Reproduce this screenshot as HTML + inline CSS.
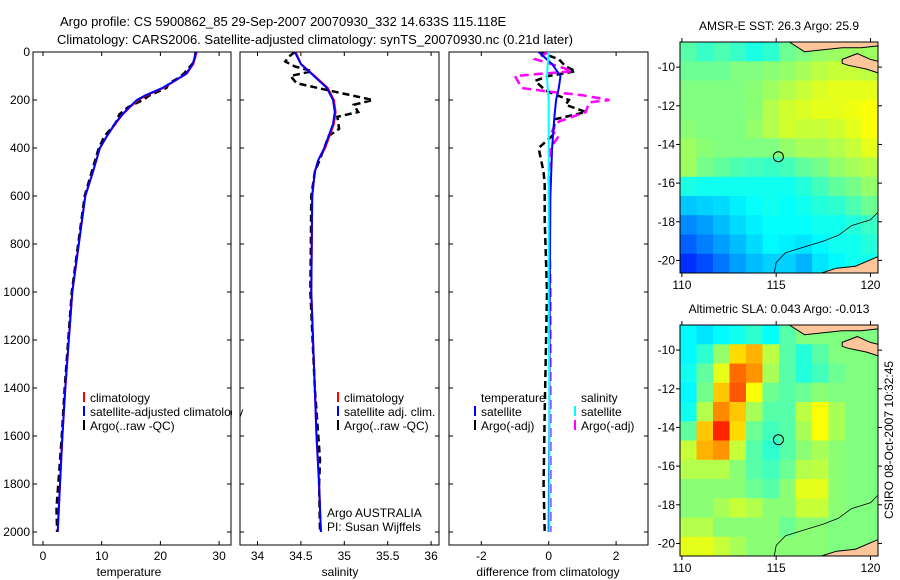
<!DOCTYPE html>
<html><head><meta charset="utf-8"><style>
body{margin:0;background:#fff;}
svg{display:block;font-family:"Liberation Sans",sans-serif;font-size:12px;}
</style></head><body>
<svg id="c" width="900" height="580" viewBox="0 0 900 580" xmlns="http://www.w3.org/2000/svg">
<text x="60" y="26" style="font-size:13px">Argo profile: CS 5900862_85 29-Sep-2007 20070930_332 14.633S 115.118E</text>
<text x="57" y="44" style="font-size:13px">Climatology: CARS2006. Satellite-adjusted climatology: synTS_20070930.nc (0.21d later)</text>
<text transform="translate(893,440) rotate(-90)" text-anchor="middle">CSIRO 08-Oct-2007 10:32:45</text>
</svg>
<script>
// ---------- profile data ----------
const tDepth=[0,50,90,120,150,180,200,230,260,300,350,400,500,600,800,1000,1400,1600,1800,2000];
const tClim=[26.2,25.6,24.5,22.5,20.5,17.7,16.2,14.8,13.6,12.3,10.9,9.7,8.5,7.2,6.1,5.0,3.8,3.3,2.9,2.5];
const tSat=[26.1,25.5,24.4,22.4,20.3,17.5,16.0,14.7,13.5,12.2,10.9,9.7,8.5,7.2,6.1,5.0,3.8,3.3,2.9,2.5];
const tArgoDepth=[0,40,90,110,130,150,180,200,230,260,300,350,400,500,600,800,1000,1400,1600,1800,1900,2000];
const tArgo=[26.0,25.8,24.0,23.0,21.5,21.0,18.2,17.0,14.5,13.0,12.3,10.5,9.5,8.3,7.1,6.0,4.9,3.7,3.2,2.6,2.3,2.4];
const sDepth=[0,50,100,150,200,250,300,400,450,500,600,1000,1400,1600,1800,2000];
const sClim=[34.44,34.5,34.66,34.81,34.88,34.9,34.88,34.78,34.7,34.66,34.63,34.62,34.66,34.68,34.71,34.73];
const sSat=[34.43,34.5,34.65,34.8,34.87,34.89,34.87,34.77,34.7,34.66,34.63,34.62,34.66,34.68,34.71,34.73];
const sArgoDepth=[0,20,40,60,80,100,130,160,200,220,250,270,320,350,400,500,600,1000,1400,1600,1700,1800,2000];
const sArgo=[34.43,34.36,34.32,34.43,34.63,34.38,34.45,34.82,35.33,35.11,35.16,34.92,34.94,34.82,34.77,34.66,34.62,34.61,34.66,34.7,34.72,34.71,34.72];
const dDepth=[0,50,100,150,200,270,400,600,1000,1500,2000];
const dTSat=[-0.3,0.1,0.35,0.3,0.22,0.17,0.1,0.05,0.03,0.02,0.0];
const dSSat=[0.0,-0.03,-0.05,-0.03,0.0,0.0,0.0,0.0,0.0,0.02,0.02];
const dArgoDepth=[0,30,60,80,100,120,160,200,220,250,280,350,400,500,550,700,1000,1500,1800,2000];
const dTArgo=[-0.3,0.3,0.5,0.8,0.0,-0.4,-0.1,0.6,0.5,1.1,0.2,0.1,-0.3,-0.15,-0.12,-0.12,-0.05,-0.12,-0.15,-0.12];
const dSArgoDepth=[0,30,60,80,100,150,165,180,200,210,250,290,330,350,400,500,1000,2000];
const dSArgo=[0,-0.4,0.3,0.7,-1.0,-0.8,0.0,1.0,1.8,1.2,1.1,0.3,0.1,0.3,0.05,0,0.05,0.05];
const depthTicks=[0,200,400,600,800,1000,1200,1400,1600,1800,2000];
const tTicks=[0,10,20,30], sTicks=[34,34.5,35,35.5,36], dTicks=[-2,0,2];
// ---------- map data ----------
const lonTicks=[110,115,120], latTicks=[-10,-12,-14,-16,-18,-20];
const sstVals=[
[.46,.43,.45,.43,.40,.42,.48,.50,.52,.53,.53,.53],
[.48,.48,.48,.50,.50,.51,.52,.54,.56,.57,.57,.56],
[.50,.50,.50,.50,.51,.53,.55,.57,.59,.60,.60,.60],
[.50,.50,.50,.50,.51,.55,.58,.59,.60,.60,.61,.62],
[.51,.50,.50,.50,.52,.55,.58,.57,.57,.58,.60,.62],
[.53,.51,.50,.50,.50,.50,.52,.54,.54,.55,.57,.60],
[.53,.49,.47,.45,.44,.43,.44,.47,.49,.52,.54,.55],
[.40,.39,.39,.39,.39,.39,.39,.41,.44,.47,.49,.52],
[.32,.33,.34,.36,.38,.39,.38,.39,.41,.42,.45,.48],
[.26,.28,.31,.34,.36,.38,.38,.38,.39,.39,.41,.43],
[.22,.25,.28,.31,.34,.37,.36,.35,.37,.39,.39,.41],
[.17,.20,.24,.28,.31,.33,.33,.30,.35,.37,.39,.39]];
const slaVals=[
[.37,.35,.37,.39,.42,.38,.46,.50,.50,.50,.50,.50],
[.37,.42,.52,.66,.70,.56,.46,.41,.46,.50,.50,.50],
[.39,.47,.60,.77,.73,.54,.46,.41,.44,.48,.50,.50],
[.37,.49,.68,.79,.62,.48,.46,.48,.51,.50,.50,.50],
[.39,.55,.74,.68,.54,.46,.46,.56,.62,.54,.50,.50],
[.47,.68,.84,.66,.48,.44,.46,.54,.62,.54,.50,.50],
[.57,.70,.73,.57,.46,.42,.46,.51,.54,.51,.50,.50],
[.55,.55,.55,.51,.46,.44,.48,.55,.56,.51,.50,.50],
[.51,.51,.51,.51,.48,.46,.51,.60,.60,.51,.50,.50],
[.51,.51,.54,.57,.55,.51,.51,.57,.57,.51,.50,.50],
[.55,.55,.51,.51,.51,.51,.48,.51,.51,.50,.50,.50],
[.60,.60,.57,.54,.51,.51,.51,.51,.51,.50,.50,.50]];
const landTopLon=[115.7,116.5,117.5,118.5,119.5,120.4,120.4,115.7];
const landTopLat=[-8.7,-9.2,-9.1,-9.0,-9.0,-8.9,-8.7,-8.7];
const islandLon=[118.5,119.3,120.0,120.4,120.4,119.8,118.8,118.5];
const islandLat=[-9.6,-9.3,-9.6,-9.7,-10.3,-10.1,-9.9,-9.8];
const landBotLon=[117.4,118.2,119.2,120.4,120.4,117.4];
const landBotLat=[-20.65,-20.4,-20.3,-19.8,-20.65,-20.65];
const isoLon=[114.9,115.0,115.5,116.5,117.5,118.3,119.0,120.0,120.4];
const isoLat=[-20.65,-20.1,-19.6,-19.3,-19.0,-18.7,-18.2,-17.9,-17.5];
const argoLon=115.118, argoLat=-14.633;

const svg=document.getElementById('c');
const NS='http://www.w3.org/2000/svg';
function mk(tag,attrs,parent){const e=document.createElementNS(NS,tag);for(const k in attrs)e.setAttribute(k,attrs[k]);(parent||svg).appendChild(e);return e;}
function txt(x,y,s,anchor,parent){const t=mk('text',{x:x,y:y,'text-anchor':anchor||'start'},parent);t.textContent=s;return t;}

const Y0=52, PB=545;
const yD=d=>Y0+d*0.24;
const panels=[
 {x0:33,x1:231,f:v=>43+v*5.87,ticks:tTicks,label:'temperature',lx:129,name:'temperature-panel'},
 {x0:240,x1:439,f:v=>257.5+(v-34)*86.8,ticks:sTicks,label:'salinity',lx:340,name:'salinity-panel'},
 {x0:449,x1:648,f:v=>548.7+v*33.7,ticks:dTicks,label:'difference from climatology',lx:548,name:'difference-panel'}];

function line(p,xs,ds,color,w,dash,name){
  const pts=xs.map((v,i)=>p.f(v).toFixed(1)+','+yD(ds[i]).toFixed(1)).join(' ');
  const e=mk('polyline',{points:pts,fill:'none',stroke:color,'stroke-width':w,'clip-path':'url(#clip'+p.i+')'});
  if(dash)e.setAttribute('stroke-dasharray',dash);
  
  
}
const defs=mk('defs',{});
panels.forEach((p,i)=>{
  p.i=i;
  const cp=mk('clipPath',{id:'clip'+i},defs);
  mk('rect',{x:p.x0,y:Y0,width:p.x1-p.x0,height:PB-Y0},cp);
  const g=mk('g',{});
  
  
  mk('rect',{x:p.x0,y:Y0,width:p.x1-p.x0,height:PB-Y0,fill:'#fff',stroke:'#000','stroke-width':1},g);
  depthTicks.forEach(d=>{
    mk('line',{x1:p.x0,x2:p.x0+4,y1:yD(d),y2:yD(d),stroke:'#000'},g);
    mk('line',{x1:p.x1,x2:p.x1-4,y1:yD(d),y2:yD(d),stroke:'#000'},g);
    if(i==0){const t=txt(30,yD(d)+4,String(d),'end',g);}
  });
  p.ticks.forEach(v=>{
    const x=p.f(v);
    mk('line',{x1:x,x2:x,y1:Y0,y2:Y0+4,stroke:'#000'},g);
    mk('line',{x1:x,x2:x,y1:PB,y2:PB-4,stroke:'#000'},g);
    const t=txt(x,PB+15,String(v),'middle',g);
    
    
  });
  const xl=txt(p.lx,PB+31,p.label,'middle',g);
  
  
});
const P=panels;
line(P[0],tArgo,tArgoDepth,'#000',2.5,'7,4','temp-argo-line');
line(P[0],tClim,tDepth,'#f00',2,null,'temp-climatology-line');
line(P[0],tSat,tDepth,'#00f',2,null,'temp-satellite-line');
line(P[1],sArgo,sArgoDepth,'#000',2.5,'7,4','sal-argo-line');
line(P[1],sClim,sDepth,'#f00',2,null,'sal-climatology-line');
line(P[1],sSat,sDepth,'#00f',2,null,'sal-satellite-line');
line(P[2],dTArgo,dArgoDepth,'#000',2.5,'7,4','diff-temp-argo-line');
line(P[2],dSArgo,dSArgoDepth,'#f0f',2.5,'9,5','diff-sal-argo-line');
line(P[2],dTSat,dDepth,'#00f',2,null,'diff-temp-satellite-line');
line(P[2],dSSat,dDepth,'#0ff',2,null,'diff-sal-satellite-line');

function legend(x,rows,name){
  const g=mk('g',{});
  
  
  rows.forEach((r,k)=>{
    const y=398+k*14;
    if(r[1])mk('line',{x1:x,x2:x,y1:y-6,y2:y+4,stroke:r[1],'stroke-width':2},g);
    txt(x+(r[2]||6),y+4,r[0],'start',g);
  });
}
legend(84,[['climatology','#f00'],['satellite-adjusted climatology','#00f'],['Argo(..raw -QC)','#000']],'temperature-legend');
mk('rect',{x:232,y:380,width:7.5,height:60,fill:'#fff'});
legend(338,[['climatology','#f00'],['satellite adj. clim.','#00f'],['Argo(..raw -QC)','#000']],'salinity-legend');
legend(475,[['temperature',null],['satellite','#00f'],['Argo(-adj)','#000']],'diff-temperature-legend');
legend(575,[['salinity',null],['satellite','#0ff'],['Argo(-adj)','#f0f']],'diff-salinity-legend');
const a1=txt(327,517,'Argo AUSTRALIA');
const a2=txt(327,531,'PI: Susan Wijffels');

// ---------- maps ----------
function jet(v){
  const r=Math.max(0,Math.min(1,Math.min(4*v-1.5,-4*v+4.5)));
  const g=Math.max(0,Math.min(1,Math.min(4*v-0.5,-4*v+3.5)));
  const b=Math.max(0,Math.min(1,Math.min(4*v+0.5,-4*v+2.5)));
  return 'rgb('+Math.round(r*255)+','+Math.round(g*255)+','+Math.round(b*255)+')';
}
function drawMap(top,vals,title,name){
  const X0=680,X1=878,Y1=top,Y2=top+231;
  const lonMin=109.9,lonMax=120.4,latMax=-8.7,latMin=-20.65;
  const fx=lon=>X0+(lon-lonMin)/(lonMax-lonMin)*(X1-X0);
  const fy=lat=>Y1+(latMax-lat)/(latMax-latMin)*(Y2-Y1);
  const g=mk('g',{});
  
  
  const nr=vals.length,nc=vals[0].length;
  vals.forEach((row,r)=>row.forEach((v,c)=>{
    const la0=latMax-(latMax-latMin)*r/nr, la1=latMax-(latMax-latMin)*(r+1)/nr;
    const lo0=lonMin+(lonMax-lonMin)*c/nc, lo1=lonMin+(lonMax-lonMin)*(c+1)/nc;
    const cell=mk('rect',{x:fx(lo0),y:fy(la0),width:fx(lo1)-fx(lo0)+0.5,height:fy(la1)-fy(la0)+0.5,fill:jet(v)},g);
    
    
  }));
  [[landTopLon,landTopLat],[islandLon,islandLat],[landBotLon,landBotLat]].forEach(([lo,la])=>{
    const l=mk('polygon',{points:lo.map((v,i)=>fx(v).toFixed(1)+','+fy(la[i]).toFixed(1)).join(' '),fill:'#fdc69a',stroke:'#000','stroke-width':1},g);
    
    
  });
  const iso=mk('polyline',{points:isoLon.map((v,i)=>fx(v).toFixed(1)+','+fy(isoLat[i]).toFixed(1)).join(' '),fill:'none',stroke:'#000','stroke-width':0.8},g);
  
  
  const m=mk('circle',{cx:fx(argoLon),cy:fy(argoLat),r:5,fill:'none',stroke:'#000','stroke-width':1},g);
  
  
  mk('rect',{x:X0,y:Y1,width:X1-X0,height:Y2-Y1,fill:'none',stroke:'#000'},g);
  lonTicks.forEach(v=>{
    mk('line',{x1:fx(v),x2:fx(v),y1:Y1,y2:Y1-4,stroke:'#000'},g);
    mk('line',{x1:fx(v),x2:fx(v),y1:Y2,y2:Y2+4,stroke:'#000'},g);
    const t=txt(fx(v),Y2+16,String(v),'middle',g);
    
  });
  latTicks.forEach(v=>{
    mk('line',{x1:X0,x2:X0-4,y1:fy(v),y2:fy(v),stroke:'#000'},g);
    mk('line',{x1:X1,x2:X1+4,y1:fy(v),y2:fy(v),stroke:'#000'},g);
    const t=txt(675,fy(v)+4,String(v),'end',g);
    
  });
  const tt=txt(779,Y1-12,title,'middle',g);
  
}
drawMap(42,sstVals,'AMSR-E SST: 26.3 Argo: 25.9','sst-map');
drawMap(325,slaVals,'Altimetric SLA: 0.043 Argo: -0.013','sla-map');
</script>
</body></html>
